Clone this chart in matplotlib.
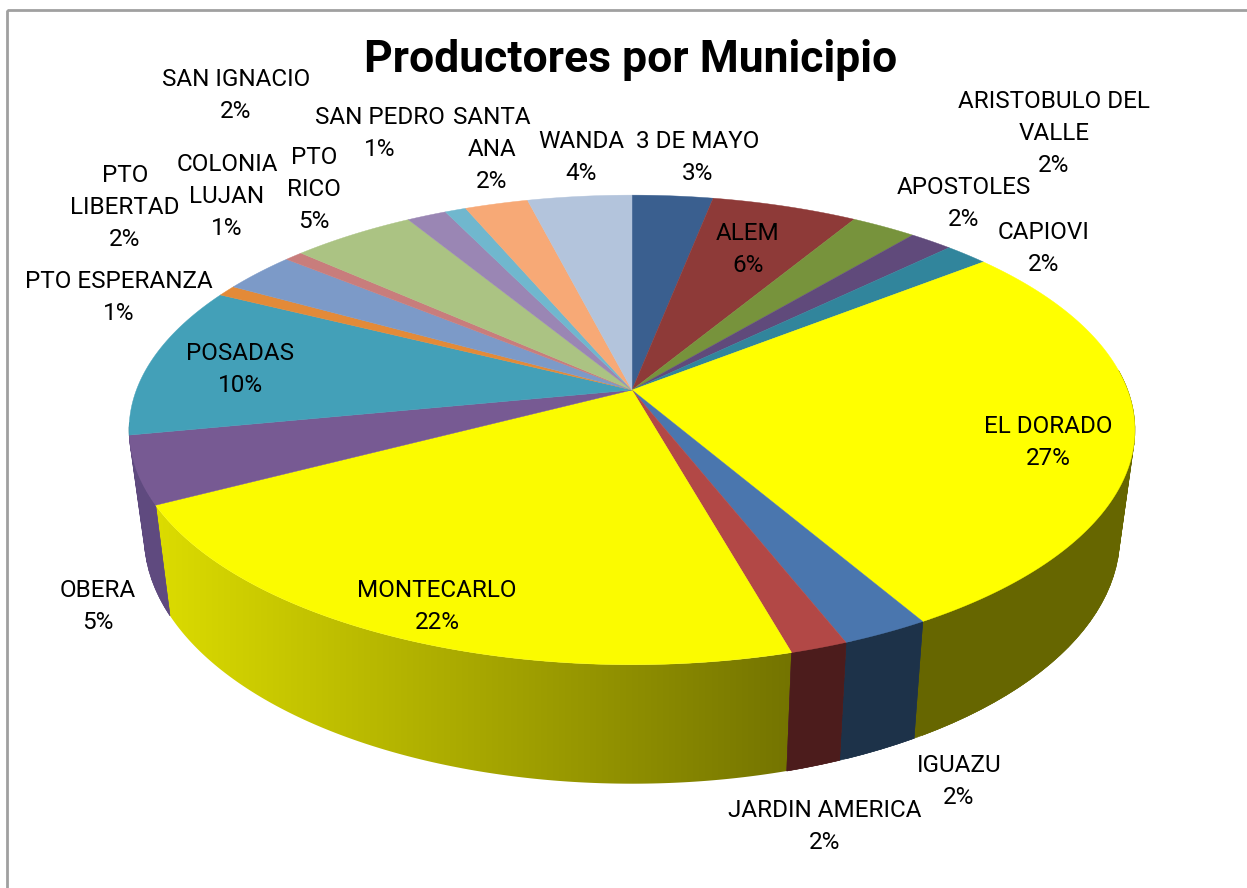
import numpy as np
import matplotlib
matplotlib.use("Agg")
import matplotlib.pyplot as plt
from matplotlib.patches import Polygon, Rectangle
from matplotlib.colors import LinearSegmentedColormap

# data
municipios = ["3 DE MAYO", "ALEM", "ARISTOBULO DEL\nVALLE", "APOSTOLES", "CAPIOVI", "EL DORADO",
              "IGUAZU", "JARDIN AMERICA", "MONTECARLO", "OBERA", "POSADAS", "PTO ESPERANZA",
              "PTO\nLIBERTAD", "COLONIA\nLUJAN", "PTO\nRICO", "SAN IGNACIO", "SAN PEDRO",
              "SANTA\nANA", "WANDA"]
shares = [3.06, 5.53, 2.47, 1.64, 1.64, 27.33, 2.42, 1.58, 21.64, 4.64, 10.47, 0.75, 2.8, 0.7, 4.7, 1.5, 0.8, 2.4, 3.95]
pct_labels = [3, 6, 2, 2, 2, 27, 2, 2, 22, 5, 10, 1, 2, 1, 5, 2, 1, 2, 4]

top_colors = ["#3a5f8f", "#8e3a38", "#77933c", "#604a7b", "#31859c", "#ffff00", "#4a76ae", "#b24846",
              "#fbfb00", "#775a93", "#43a0b8", "#e38a38", "#7c9ac8", "#c87d7c", "#abc383", "#9a86b4",
              "#70b7ce", "#f7a976", "#b3c4dc"]
wall_colors = ["#2a4566", "#682826", "#536729", "#433356", "#225d6d", "#666600", "#1d3249", "#4c1c1c",
               "#fbfb00", "#5f4a7f", "#2f7081", "#9e6127", "#566c8c", "#8c5756", "#78885b", "#6b5e7e",
               "#4e8090", "#ad7652", "#7d8999"]

# label centres in pixels
label_pos = [(698, 157), (748, 249), (1054, 134), (964, 203), (1044, 248), (1048, 442), (959, 781),
             (825, 826), (437, 606), (98, 606), (240, 369), (119, 297), (125, 207), (227, 196),
             (314, 190), (236, 96), (380, 133), (492, 150), (581, 158)]

CX, CY = 632, 390
R, S, K = 495.6, 228, 0.17


def top_rim(t):
    # t is degrees clockwise from 12 o'clock, pie seen in perspective
    u, v = np.sin(np.radians(t)), np.cos(np.radians(t))
    w = 1 + K * v
    return CX + R * u / w, CY - S * v / w


def bottom_rim(t):
    x, y = top_rim(t)
    v = np.cos(np.radians(t))
    return CX + 0.97 * (x - CX), y + 103 - 16 * v


fig = plt.figure(figsize=(12.47, 8.88), dpi=100)
ax = fig.add_axes([0, 0, 1, 1])
ax.axis("off")

ax.add_patch(Rectangle((7, 10), 1300, 1000, fill=False, edgecolor="#a0a0a0", linewidth=2))

edges = np.cumsum([0] + shares) / sum(shares) * 360
mid = (edges[:-1] + edges[1:]) / 2

# side walls first, back to front
for i in np.argsort(-np.abs(mid - 180)):
    a, b = max(edges[i], 85), min(edges[i + 1], 262)
    if b <= a:
        continue
    ts = np.arange(a, b, 0.5).tolist() + [b]
    pts = [top_rim(t) for t in ts] + [bottom_rim(t) for t in ts[::-1]]
    if municipios[i] == "MONTECARLO":
        # this one has a left to right shading
        poly = Polygon(pts, closed=True, facecolor="none", edgecolor="none")
        ax.add_patch(poly)
        xs = [p[0] for p in pts]
        ys = [p[1] for p in pts]
        cmap = LinearSegmentedColormap.from_list("wall", ["#dcdc00", "#747400"])
        im = ax.imshow(np.linspace(0, 1, 256).reshape(1, -1), cmap=cmap, aspect="auto",
                       extent=(min(xs), max(xs), max(ys), min(ys)), interpolation="bilinear")
        im.set_clip_path(poly)
    else:
        col = wall_colors[i]
        ax.add_patch(Polygon(pts, closed=True, facecolor=col, edgecolor=col, linewidth=0.4))
        # the strip folds over itself at the sides, quads fill the silhouette
        for t0, t1 in zip(ts[:-1:4], ts[4::4]):
            quad = [top_rim(t0), top_rim(t1), bottom_rim(t1), bottom_rim(t0)]
            ax.add_patch(Polygon(quad, closed=True, facecolor=col, edgecolor=col, linewidth=0.4))

ax.set_xlim(0, 1247)
ax.set_ylim(888, 0)

# top faces
for i in range(len(shares)):
    ts = np.arange(edges[i], edges[i + 1], 0.5).tolist() + [edges[i + 1]]
    pts = [(CX, CY)] + [top_rim(t) for t in ts]
    ax.add_patch(Polygon(pts, closed=True, facecolor=top_colors[i], edgecolor=top_colors[i], linewidth=0.3))

for name, p, (x, y) in zip(municipios, pct_labels, label_pos):
    ax.text(x, y, f"{name}\n{p}%", ha="center", va="center", fontsize=17.5, family="Roboto",
            color="black", linespacing=1.5)

ax.text(631, 60, "Productores por Municipio", ha="center", va="center", fontsize=32,
        fontweight="bold", family="Roboto", color="black")

fig.savefig("out.png", dpi=100)
